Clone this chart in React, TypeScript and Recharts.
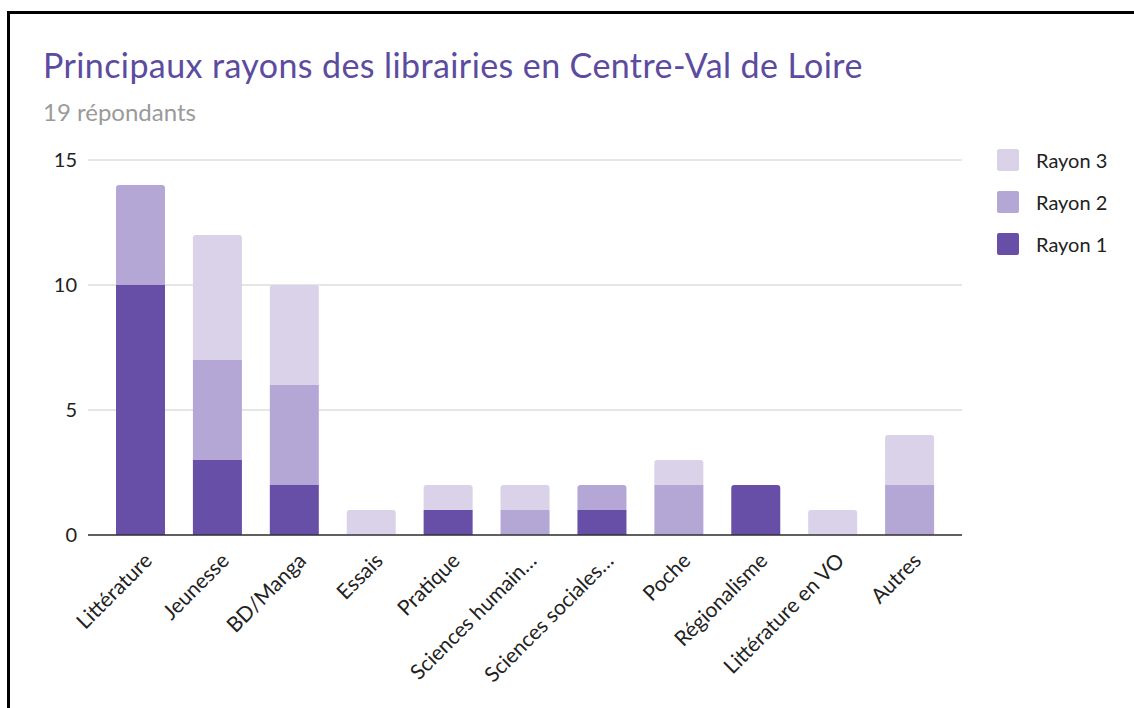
import React from "react";
import { BarChart, Bar, XAxis, YAxis, CartesianGrid } from "recharts";

const categories = [
  "Littérature",
  "Jeunesse",
  "BD/Manga",
  "Essais",
  "Pratique",
  "Sciences humain…",
  "Sciences sociales…",
  "Poche",
  "Régionalisme",
  "Littérature en VO",
  "Autres",
];
const rayon1 = [10, 3, 2, 0, 1, 0, 1, 0, 2, 0, 0];
const rayon2 = [4, 4, 4, 0, 0, 1, 1, 2, 0, 0, 2];
const rayon3 = [0, 5, 4, 1, 1, 1, 0, 1, 0, 1, 2];
const yTicks = [0, 5, 10, 15];

const series = [
  { key: "r1", name: "Rayon 1", color: "#674ea7" },
  { key: "r2", name: "Rayon 2", color: "#b4a7d6" },
  { key: "r3", name: "Rayon 3", color: "#d9d2e9" },
];

const data = categories.map((name, i) => ({
  name,
  r1: rayon1[i],
  r2: rayon2[i],
  r3: rayon3[i],
}));

const FONT = "Lato, 'Open Sans', sans-serif";

// rounded corners only on the top segment of each stack
function makeShape(idx: number) {
  return (props: any) => {
    const { x, y, width, height, fill, payload } = props;
    if (!height || height <= 0) return <g />;
    const above = series.slice(idx + 1).some((s) => payload[s.key] > 0);
    const r = above ? 0 : 3;
    const d = `M${x},${y + height} L${x},${y + r} Q${x},${y} ${x + r},${y} L${x + width - r},${y} Q${x + width},${y} ${x + width},${y + r} L${x + width},${y + height} Z`;
    return <path d={d} fill={fill} />;
  };
}

function XTick({ x, y, payload }: any) {
  return (
    <g transform={`translate(${x + 13},${y + 19})`}>
      <text
        x={0}
        y={0}
        textAnchor="end"
        transform="rotate(-45)"
        fill="#222"
        fontSize={21}
        fontFamily={FONT}
      >
        {payload.value}
      </text>
    </g>
  );
}

export default function App() {
  return (
    <div
      style={{
        position: "absolute",
        left: 0,
        top: 0,
        width: 1134,
        height: 708,
        background: "#fff",
        overflow: "hidden",
        fontFamily: FONT,
      }}
    >
      <div
        style={{
          position: "absolute",
          left: 7,
          top: 11,
          width: 1200,
          height: 800,
          borderLeft: "3px solid #000",
          borderTop: "3px solid #000",
        }}
      />
      <svg width={1134} height={140} style={{ position: "absolute", left: 0, top: 0 }}>
        <text
          x={43}
          y={78}
          fill="#5c4b9f"
          fontSize={34}
          letterSpacing={0.4}
          fontFamily={FONT}
        >
          Principaux rayons des librairies en Centre-Val de Loire
        </text>
        <text x={43} y={121} fill="#9a9a9a" fontSize={24} fontFamily={FONT}>
          19 répondants
        </text>
      </svg>
      <div style={{ position: "absolute", left: 0, top: 0 }}>
        <BarChart
          width={1134}
          height={708}
          data={data}
          margin={{ top: 160, right: 172, left: 38, bottom: 53 }}
        >
          <CartesianGrid horizontal vertical={false} stroke="#cccccc" />
          <XAxis
            dataKey="name"
            interval={0}
            height={120}
            padding={{ left: 14, right: 14 }}
            tickLine={false}
            axisLine={{ stroke: "#333", strokeWidth: 1.5 }}
            tick={<XTick />}
          />
          <YAxis
            width={50}
            domain={[0, 15]}
            ticks={yTicks}
            axisLine={false}
            tickLine={false}
            tickSize={6}
            tickMargin={5}
            tick={{ fill: "#222", fontSize: 20, fontFamily: FONT }}
          />
          {series.map((s, i) => (
            <Bar
              key={s.key}
              dataKey={s.key}
              name={s.name}
              stackId="a"
              fill={s.color}
              barSize={49}
              shape={makeShape(i)}
              isAnimationActive={false}
            />
          ))}
        </BarChart>
      </div>
      <div style={{ position: "absolute", left: 997, top: 149 }}>
        {[...series].reverse().map((s) => (
          <div
            key={s.key}
            style={{ display: "flex", alignItems: "center", height: 22, marginBottom: 20 }}
          >
            <div
              style={{ width: 22, height: 22, background: s.color, borderRadius: 2 }}
            />
            <span style={{ marginLeft: 17, fontSize: 20, color: "#222" }}>{s.name}</span>
          </div>
        ))}
      </div>
    </div>
  );
}
